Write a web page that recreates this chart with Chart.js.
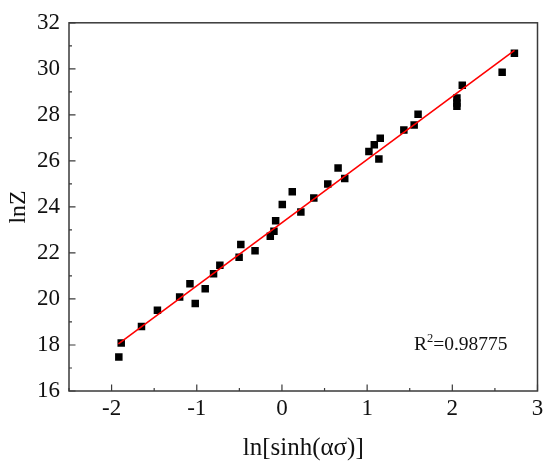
<!DOCTYPE html>
<html>
<head>
<meta charset="utf-8">
<script src="https://cdn.jsdelivr.net/npm/chart.js@4.4.1/dist/chart.umd.min.js"></script>
<style>
  html, body { margin: 0; padding: 0; background: #fff; }
  #wrap { width: 550px; height: 469px; }
</style>
</head>
<body>
<div id="wrap"><canvas id="myChart"></canvas></div>
<script>
// measured points, ln[sinh(ασ)] vs lnZ
const xValues = [-1.915, -1.887, -1.649, -1.462, -1.201, -1.080, -1.018, -0.901, -0.803, -0.729,
  -0.503, -0.483, -0.316, -0.137, -0.094, -0.074, 0.004, 0.121, 0.222, 0.374,
  0.538, 0.659, 0.737, 1.021, 1.084, 1.154, 1.138, 1.431, 1.552, 1.598,
  2.054, 2.054, 2.054, 2.117, 2.585, 2.729];
const yValues = [17.48, 18.09, 18.80, 19.51, 20.09, 20.66, 19.80, 20.44, 21.10, 21.46,
  21.81, 22.37, 22.09, 22.72, 22.94, 23.40, 24.10, 24.66, 23.78, 24.39,
  25.00, 25.69, 25.23, 26.41, 26.70, 26.98, 26.08, 27.34, 27.56, 28.03,
  28.73, 28.52, 28.37, 29.29, 29.85, 30.68];

// linear fit line end points
const fitX = [-1.92, 2.73];
const fitY = [18.05, 30.80];

const xTicks = [-2, -1, 0, 1, 2, 3];
const yTicks = [16, 18, 20, 22, 24, 26, 28, 30, 32];
const rSquared = '0.98775';

const serif = "'Liberation Serif', 'Times New Roman', serif";
const axisColor = '#3a3a3a';

// frame, inward ticks and the R² label
const framePlugin = {
  id: 'frame',
  afterDraw(chart) {
    const { ctx, chartArea: a, scales: { x, y } } = chart;
    ctx.save();
    ctx.strokeStyle = axisColor;
    ctx.lineWidth = 1.5;
    ctx.strokeRect(a.left, a.top, a.right - a.left, a.bottom - a.top);

    ctx.lineWidth = 1.2;
    ctx.beginPath();
    for (let v = -2.5; v <= 3.001; v += 0.5) {
      const px = x.getPixelForValue(v);
      const len = Number.isInteger(v) ? 6.5 : 3;
      ctx.moveTo(px, a.bottom);
      ctx.lineTo(px, a.bottom - len);
    }
    for (let v = 16; v <= 32.001; v += 1) {
      const py = y.getPixelForValue(v);
      const len = v % 2 === 0 ? 6.5 : 3;
      ctx.moveTo(a.left, py);
      ctx.lineTo(a.left + len, py);
    }
    ctx.stroke();

    // R² text
    const tx = x.getPixelForValue(1.55);
    const ty = y.getPixelForValue(17.8);
    ctx.fillStyle = '#111';
    ctx.textBaseline = 'alphabetic';
    ctx.textAlign = 'left';
    ctx.font = '19.5px ' + serif;
    ctx.fillText('R', tx, ty);
    const rw = ctx.measureText('R').width;
    ctx.font = '12.5px ' + serif;
    ctx.fillText('2', tx + rw, ty - 8);
    const sw = ctx.measureText('2').width;
    ctx.font = '19.5px ' + serif;
    ctx.fillText('=' + rSquared, tx + rw + sw, ty);
    ctx.restore();
  }
};

const scatterPoints = xValues.map((v, i) => ({ x: v, y: yValues[i] }));
const fitPoints = fitX.map((v, i) => ({ x: v, y: fitY[i] }));

const ctx = document.getElementById('myChart').getContext('2d');
new Chart(ctx, {
  type: 'scatter',
  data: {
    datasets: [
      {
        label: 'fit',
        type: 'line',
        data: fitPoints,
        borderColor: '#ff0000',
        borderWidth: 1.6,
        pointRadius: 0,
        fill: false,
        order: 1
      },
      {
        label: 'lnZ',
        data: scatterPoints,
        pointStyle: 'rect',
        pointRadius: 5.3,
        pointBorderWidth: 0,
        backgroundColor: '#000',
        borderColor: '#000',
        order: 2
      }
    ]
  },
  options: {
    responsive: true,
    maintainAspectRatio: false,
    animation: false,
    layout: { padding: { top: 19, right: 12.5, left: 0, bottom: 0 } },
    plugins: {
      legend: { display: false },
      tooltip: { enabled: false }
    },
    scales: {
      x: {
        type: 'linear',
        min: -2.5,
        max: 3,
        afterFit(scale) { scale.height = 78; },
        afterBuildTicks(scale) { scale.ticks = xTicks.map(v => ({ value: v })); },
        grid: { display: false, drawTicks: false },
        border: { display: false },
        ticks: {
          color: '#111',
          padding: 4,
          font: { family: serif, size: 23 }
        },
        title: {
          display: true,
          text: 'ln[sinh(ασ)]',
          color: '#111',
          font: { family: serif, size: 25 },
          padding: { top: 0, bottom: 6 }
        }
      },
      y: {
        type: 'linear',
        min: 16,
        max: 32,
        afterFit(scale) { scale.width = 69; },
        afterBuildTicks(scale) { scale.ticks = yTicks.map(v => ({ value: v })); },
        grid: { display: false, drawTicks: false },
        border: { display: false },
        ticks: {
          color: '#111',
          padding: 9,
          font: { family: serif, size: 23 }
        },
        title: {
          display: true,
          text: 'lnZ',
          color: '#111',
          font: { family: serif, size: 24 },
          padding: { top: 4.5, bottom: 0 }
        }
      }
    }
  },
  plugins: [framePlugin]
});
</script>
</body>
</html>
